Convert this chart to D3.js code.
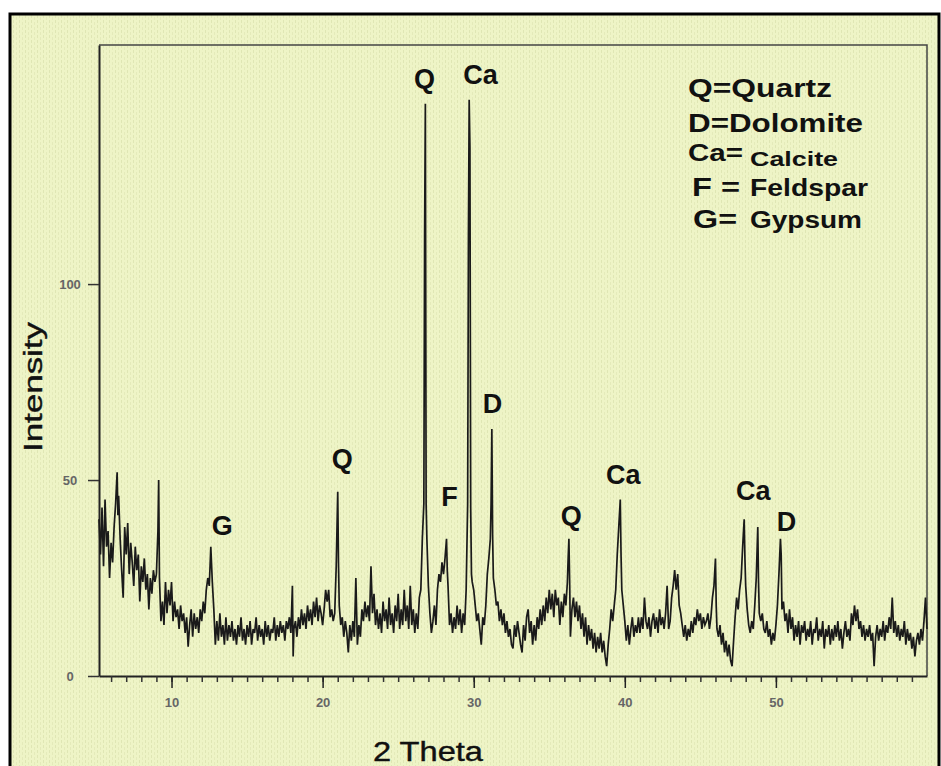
<!DOCTYPE html>
<html>
<head>
<meta charset="utf-8">
<script src="https://cdn.jsdelivr.net/npm/d3@7"></script>
<style>
  html, body { margin: 0; padding: 0; background: #fff; }
  svg { display: block; }
</style>
</head>
<body>
<div id="chart"></div>
<script>
// XRD scan: [2 theta (deg), intensity]
var scan = [
[5.2,40],[5.3,31],[5.4,43],[5.5,28],[5.6,45],[5.7,33],[5.8,37],[5.9,25],[6.0,34],[6.1,29],
[6.2,38],[6.3,44],[6.4,52],[6.45,41],[6.5,46],[6.6,35],[6.7,27],[6.8,20],[6.9,38],[7.0,31],
[7.1,39],[7.2,26],[7.3,34],[7.4,29],[7.5,23],[7.6,33],[7.7,27],[7.8,31],[7.9,19],[8.0,28],
[8.1,24],[8.2,30],[8.3,22],[8.4,26],[8.5,17],[8.6,25],[8.7,21],[8.8,27],[8.9,24],[9.0,26],
[9.1,37],[9.15,50],[9.2,25],[9.3,14],[9.4,19],[9.5,13],[9.6,24],[9.7,16],[9.8,22],[9.9,18],
[10.0,24],[10.1,14],[10.2,19],[10.3,15],[10.4,17],[10.5,12],[10.6,18],[10.7,14],[10.8,16],[10.9,11],
[11.0,15],[11.1,7.5],[11.2,13],[11.3,17],[11.4,10],[11.5,16],[11.6,12],[11.7,15],[11.8,11],[11.9,17],
[12.0,14],[12.1,19],[12.2,16],[12.3,22],[12.4,25],[12.5,23],[12.6,33],[12.7,24],[12.8,17],[12.9,8],
[13.0,14],[13.1,9],[13.2,16],[13.3,10],[13.4,13],[13.5,8],[13.6,15],[13.7,9],[13.8,13],[13.9,10],
[14.0,14],[14.1,9],[14.2,12],[14.3,8],[14.4,13],[14.5,10],[14.6,15],[14.7,9],[14.8,12],[14.9,8],
[15.0,13],[15.1,10],[15.2,14],[15.3,8],[15.4,12],[15.5,11],[15.6,15],[15.7,9],[15.8,13],[15.9,10],
[16.0,12],[16.1,8],[16.2,14],[16.3,10],[16.4,13],[16.5,9],[16.6,12],[16.7,11],[16.8,15],[16.9,9],
[17.0,13],[17.1,10],[17.2,14],[17.3,11],[17.4,13],[17.5,9],[17.6,14],[17.7,12],[17.8,15],[17.9,11],
[18.0,23],[18.05,5],[18.1,12],[18.2,14],[18.3,10],[18.4,15],[18.5,12],[18.6,17],[18.7,13],[18.8,16],
[18.9,12],[19.0,18],[19.1,14],[19.2,17],[19.3,13],[19.4,19],[19.5,15],[19.6,20],[19.7,14],[19.8,18],
[19.9,16],[20.0,13],[20.1,17],[20.2,22],[20.3,19],[20.4,22],[20.5,15],[20.6,17],[20.7,14],[20.8,16],
[20.9,28],[21.0,47],[21.05,29],[21.1,18],[21.2,13],[21.3,15],[21.4,10],[21.5,14],[21.6,11],[21.7,6],
[21.8,13],[21.9,9],[22.0,14],[22.1,10],[22.2,25],[22.3,8],[22.4,13],[22.5,10],[22.6,17],[22.7,14],
[22.8,19],[22.9,15],[23.0,18],[23.1,14],[23.2,28],[23.3,16],[23.4,21],[23.5,13],[23.6,17],[23.7,12],
[23.8,16],[23.9,11],[24.0,19],[24.1,14],[24.2,17],[24.3,12],[24.4,20],[24.5,13],[24.6,16],[24.7,11],
[24.8,18],[24.9,14],[25.0,21],[25.1,12],[25.2,17],[25.3,13],[25.4,22],[25.5,14],[25.6,18],[25.7,12],
[25.8,23],[25.9,13],[26.0,17],[26.1,11],[26.2,16],[26.3,12],[26.4,20],[26.5,22],[26.6,35],[26.7,44],
[26.75,112],[26.8,146],[26.85,44],[26.9,35],[27.0,23],[27.1,16],[27.2,11],[27.3,14],[27.4,18],[27.5,13],
[27.6,22],[27.7,26],[27.8,24],[27.9,29],[28.0,26],[28.1,30],[28.2,35],[28.25,27],[28.3,23],[28.4,13],
[28.5,16],[28.6,11],[28.7,15],[28.8,12],[28.9,18],[29.0,13],[29.1,17],[29.2,11],[29.3,16],[29.4,13],
[29.5,22],[29.6,44],[29.65,112],[29.7,147],[29.75,135],[29.8,43],[29.85,26],[29.9,24],[30.0,22],[30.1,18],
[30.2,14],[30.3,16],[30.4,12],[30.5,8],[30.6,15],[30.7,13],[30.8,18],[30.9,26],[31.0,30],[31.1,35],
[31.15,44],[31.2,63],[31.25,36],[31.3,25],[31.4,22],[31.5,18],[31.6,19],[31.7,14],[31.8,17],[31.9,13],
[32.0,16],[32.1,11],[32.2,14],[32.3,10],[32.4,12],[32.5,8],[32.6,7],[32.7,13],[32.8,10],[32.9,14],
[33.0,11],[33.1,8],[33.2,6],[33.3,13],[33.4,9],[33.5,15],[33.6,17],[33.7,11],[33.8,14],[33.9,8],
[34.0,13],[34.1,9],[34.2,15],[34.3,12],[34.4,17],[34.5,13],[34.6,18],[34.7,14],[34.8,20],[34.9,16],
[35.0,22],[35.1,17],[35.2,21],[35.3,15],[35.4,22],[35.5,18],[35.6,20],[35.7,13],[35.8,19],[35.9,15],
[36.0,21],[36.1,18],[36.2,24],[36.25,30],[36.3,35],[36.35,24],[36.4,10],[36.5,17],[36.6,20],[36.7,15],
[36.8,19],[36.9,14],[37.0,18],[37.1,12],[37.2,16],[37.3,10],[37.4,15],[37.5,8],[37.6,13],[37.7,9],
[37.8,12],[37.9,7],[38.0,11],[38.1,6],[38.2,10],[38.3,7],[38.4,11],[38.5,6],[38.6,9],[38.7,5],
[38.8,2.5],[38.9,8],[39.0,12],[39.1,17],[39.2,14],[39.3,18],[39.4,22],[39.5,31],[39.6,38],[39.7,45],
[39.75,31],[39.8,22],[39.9,18],[40.0,14],[40.1,9],[40.2,13],[40.3,8],[40.4,12],[40.5,15],[40.6,10],
[40.7,13],[40.8,11],[40.9,15],[41.0,11],[41.1,15],[41.2,12],[41.3,20],[41.4,14],[41.5,12],[41.6,15],
[41.7,10],[41.8,14],[41.9,16],[42.0,12],[42.1,15],[42.2,11],[42.3,17],[42.4,13],[42.5,15],[42.6,12],
[42.7,16],[42.8,23],[42.9,12],[43.0,14],[43.1,20],[43.2,23],[43.3,27],[43.4,22],[43.5,26],[43.6,18],
[43.7,16],[43.8,13],[43.9,10],[44.0,13],[44.1,9],[44.2,12],[44.3,10],[44.4,14],[44.5,11],[44.6,15],
[44.7,13],[44.8,17],[44.9,14],[45.0,16],[45.1,12],[45.2,15],[45.3,13],[45.4,14],[45.5,16],[45.6,12],
[45.7,15],[45.8,20],[45.9,23],[46.0,30],[46.05,18],[46.1,12],[46.2,10],[46.3,13],[46.4,8],[46.5,11],
[46.6,6],[46.7,9],[46.8,5],[46.9,8],[47.0,4],[47.1,2.5],[47.2,9],[47.3,15],[47.4,20],[47.5,17],
[47.6,22],[47.7,25],[47.8,33],[47.9,40],[47.95,30],[48.0,23],[48.1,17],[48.2,13],[48.3,11],[48.4,14],
[48.5,12],[48.6,18],[48.7,25],[48.8,38],[48.85,24],[48.9,16],[49.0,14],[49.1,16],[49.2,12],[49.3,11],
[49.4,14],[49.5,10],[49.6,12],[49.7,8],[49.8,11],[49.9,9],[50.0,13],[50.1,18],[50.2,26],[50.3,35],
[50.35,31],[50.4,17],[50.5,19],[50.6,14],[50.7,16],[50.8,11],[50.9,17],[51.0,12],[51.1,15],[51.2,9],
[51.3,13],[51.4,10],[51.5,14],[51.6,8],[51.7,13],[51.8,11],[51.9,14],[52.0,9],[52.1,12],[52.2,10],
[52.3,14],[52.4,8],[52.5,12],[52.6,11],[52.7,15],[52.8,9],[52.9,12],[53.0,10],[53.1,14],[53.2,7],
[53.3,12],[53.4,10],[53.5,13],[53.6,8],[53.7,12],[53.8,9],[53.9,13],[54.0,10],[54.1,14],[54.2,9],
[54.3,12],[54.4,7],[54.5,11],[54.6,14],[54.7,10],[54.8,12],[54.9,9],[55.0,16],[55.1,13],[55.2,18],
[55.3,14],[55.4,17],[55.5,12],[55.6,14],[55.7,10],[55.8,13],[55.9,9],[56.0,12],[56.1,10],[56.2,13],
[56.3,9],[56.4,11],[56.5,2.5],[56.6,10],[56.7,13],[56.8,9],[56.9,12],[57.0,10],[57.1,14],[57.2,9],
[57.3,13],[57.4,11],[57.5,15],[57.6,12],[57.7,20],[57.8,11],[57.9,14],[58.0,10],[58.1,13],[58.2,9],
[58.3,12],[58.4,10],[58.5,14],[58.6,8],[58.7,12],[58.8,9],[58.9,11],[59.0,7],[59.1,10],[59.2,5],
[59.3,9],[59.4,11],[59.5,8],[59.6,12],[59.7,9],[59.8,14],[59.9,20],[60.0,12]
];

// phase letters placed above their peaks: [text, 2 theta, intensity of label baseline]
var peakLabels = [
  ["Q", 26.75, 150], ["Ca", 30.45, 151], ["Q", 21.3, 53], ["F", 28.4, 43.5],
  ["D", 31.25, 67], ["G", 13.35, 36], ["Q", 36.45, 38.5], ["Ca", 39.9, 49],
  ["Ca", 48.5, 45], ["D", 50.7, 37]
];

var legendKeys = ["Q=", "D=", "Ca=", "F =", "G="];
var legendNames = ["Quartz", "Dolomite", "Calcite", "Feldspar", "Gypsum"];

var xTicks = [10, 20, 30, 40, 50];
var yTicks = [0, 50, 100];

var xTitle = "2 Theta";
var yTitle = "Intensity";

var width = 941;
var height = 766;
var marginLeft = 99, marginRight = 14, marginTop = 45, marginBottom = 90;
var font = "'Liberation Sans', Arial, sans-serif";

var xScale = d3.scaleLinear().domain([5.2, 60]).range([marginLeft, width - marginRight]);
var yScale = d3.scaleLinear().domain([0, 161]).range([height - marginBottom, marginTop]);

var svg = d3.select("#chart").append("svg")
    .attr("width", width)
    .attr("height", height)
    .attr("viewBox", [0, 0, width, height]);

// canvas-like texture of the scanned figure
var defs = svg.append("defs");
var pat = defs.append("pattern")
    .attr("id", "weave")
    .attr("width", 6)
    .attr("height", 5)
    .attr("patternUnits", "userSpaceOnUse");
pat.append("rect").attr("width", 6).attr("height", 5).attr("fill", "#eef4c6");
pat.append("rect").attr("x", 1).attr("y", 0).attr("width", 1).attr("height", 3).attr("fill", "#dfe6b4");
pat.append("rect").attr("x", 4).attr("y", 2).attr("width", 1).attr("height", 3).attr("fill", "#e4eaba");

svg.append("rect")
    .attr("x", 10).attr("y", 14)
    .attr("width", width - 12).attr("height", height)
    .attr("fill", "url(#weave)")
    .attr("stroke", "#000")
    .attr("stroke-width", 3);

// plot frame (top and right)
svg.append("path")
    .attr("d", `M${marginLeft},${marginTop}H${width - marginRight}V${height - marginBottom}`)
    .attr("fill", "none")
    .attr("stroke", "#444")
    .attr("stroke-width", 1.5);

// x axis with minor ticks every degree
var xAxis = svg.append("g")
    .attr("transform", `translate(0,${height - marginBottom})`)
    .call(d3.axisBottom(xScale).tickValues(d3.range(6, 60)).tickSize(6).tickSizeOuter(0).tickFormat(""));
xAxis.selectAll(".tick line").attr("stroke", "#333").attr("stroke-width", 1.5);
xAxis.select(".domain").attr("stroke", "#222").attr("stroke-width", 2);

var xMajor = svg.append("g")
    .attr("transform", `translate(0,${height - marginBottom})`)
    .call(d3.axisBottom(xScale).tickValues(xTicks).tickSize(12).tickPadding(10));
xMajor.select(".domain").remove();
xMajor.selectAll(".tick line").attr("stroke", "#222").attr("stroke-width", 1.5);
xMajor.selectAll(".tick text")
    .attr("font-family", font)
    .attr("font-size", 13)
    .attr("font-weight", "bold")
    .attr("fill", "#666");

// y axis
var yAxis = svg.append("g")
    .attr("transform", `translate(${marginLeft},0)`)
    .call(d3.axisLeft(yScale).tickValues(yTicks).tickSize(11).tickSizeOuter(0));
yAxis.select(".domain").attr("stroke", "#222").attr("stroke-width", 2);
yAxis.selectAll(".tick line").attr("stroke", "#333").attr("stroke-width", 1.5);
yAxis.selectAll(".tick text")
    .attr("x", -29)
    .attr("text-anchor", "middle")
    .attr("font-family", font)
    .attr("font-size", 13)
    .attr("font-weight", "bold")
    .attr("fill", "#666");

// the scan itself
var line = d3.line()
    .x(d => xScale(d[0]))
    .y(d => yScale(d[1]));

svg.append("path")
    .datum(scan)
    .attr("fill", "none")
    .attr("stroke", "#1a1a1a")
    .attr("stroke-width", 1.7)
    .attr("stroke-linejoin", "miter")
    .attr("d", line);

// peak labels
svg.append("g")
  .selectAll("text")
  .data(peakLabels)
  .enter().append("text")
    .attr("x", d => xScale(d[1]))
    .attr("y", d => yScale(d[2]))
    .attr("text-anchor", "middle")
    .attr("font-family", font)
    .attr("font-size", 27)
    .attr("font-weight", "bold")
    .attr("fill", "#111")
    .text(d => d[0]);

// legend block, top right
var legendRows = [
  {kx: 688, ky: 97, kw: 144, nx: null, ny: 97, nw: 0, size: 25, nsize: 25},
  {kx: 688, ky: 132, kw: 175, nx: null, ny: 132, nw: 0, size: 25, nsize: 25},
  {kx: 688, ky: 161, kw: 55, nx: 750, ny: 166, nw: 88, size: 24, nsize: 21},
  {kx: 692, ky: 196, kw: 48, nx: 750, ny: 196, nw: 118, size: 25, nsize: 23},
  {kx: 693, ky: 228, kw: 44, nx: 750, ny: 228, nw: 112, size: 25, nsize: 23}
];
var legend = svg.append("g")
    .attr("font-family", font)
    .attr("font-weight", "bold")
    .attr("fill", "#111");
legendRows.forEach(function (r, i) {
  var joined = r.nx === null;
  legend.append("text")
      .attr("x", r.kx)
      .attr("y", r.ky)
      .attr("font-size", r.size)
      .attr("textLength", r.kw)
      .attr("lengthAdjust", "spacingAndGlyphs")
      .text(joined ? legendKeys[i] + legendNames[i] : legendKeys[i]);
  if (!joined) {
    legend.append("text")
        .attr("x", r.nx)
        .attr("y", r.ny)
        .attr("font-size", r.nsize)
        .attr("textLength", r.nw)
        .attr("lengthAdjust", "spacingAndGlyphs")
        .text(legendNames[i]);
  }
});

// axis titles
svg.append("text")
    .attr("transform", "translate(42,387) rotate(-90)")
    .attr("text-anchor", "middle")
    .attr("font-family", font)
    .attr("font-size", 26)
    .attr("fill", "#111")
    .attr("stroke", "#111")
    .attr("stroke-width", 0.4)
    .attr("textLength", 130)
    .attr("lengthAdjust", "spacingAndGlyphs")
    .text(yTitle);

svg.append("text")
    .attr("x", 428)
    .attr("y", 761)
    .attr("text-anchor", "middle")
    .attr("font-family", font)
    .attr("font-size", 27)
    .attr("fill", "#111")
    .attr("stroke", "#111")
    .attr("stroke-width", 0.4)
    .attr("textLength", 110)
    .attr("lengthAdjust", "spacingAndGlyphs")
    .text(xTitle);
</script>
</body>
</html>
